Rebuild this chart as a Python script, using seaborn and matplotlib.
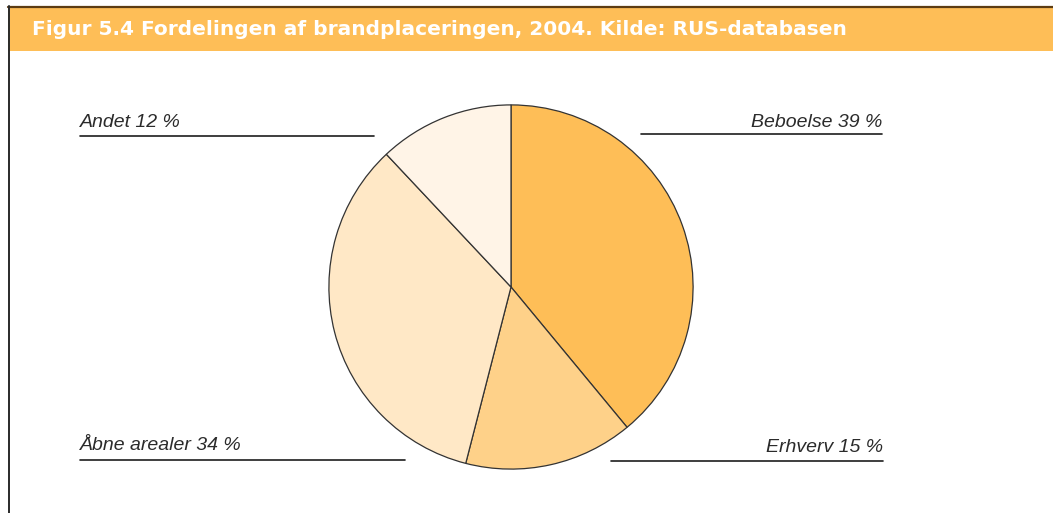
import matplotlib
matplotlib.use("Agg")
import matplotlib.pyplot as plt
from matplotlib.patches import Rectangle
from matplotlib.lines import Line2D
import seaborn as sns

# Data
categories = ["Beboelse", "Erhverv", "Åbne arealer", "Andet"]
shares = [39, 15, 34, 12]
slice_colors = ["#FEBE57", "#FED189", "#FFE8C6", "#FFF4E7"]
title = "Figur 5.4 Fordelingen af brandplaceringen, 2004. Kilde: RUS-databasen"

sns.set_theme(style="white")
plt.rcParams["font.family"] = ["Liberation Sans", "DejaVu Sans"]

W, H = 1053, 513
fig = plt.figure(figsize=(W / 100, H / 100), dpi=100)
fig.patch.set_facecolor("white")


def fx(px):
    return px / W


def fy(py):
    return 1 - py / H


# header bar and frame
fig.patches.append(Rectangle((fx(8), fy(51)), 1 - fx(8), (51 - 7) / H,
                             transform=fig.transFigure, facecolor="#FEBE57",
                             edgecolor="none", zorder=0))
fig.lines.append(Line2D([fx(8), 1], [fy(6.5), fy(6.5)], transform=fig.transFigure,
                        color="#5C3C12", linewidth=1.6))
fig.lines.append(Line2D([fx(8.5), fx(8.5)], [fy(6), 0], transform=fig.transFigure,
                        color="#2A2A2A", linewidth=1.4))
fig.text(fx(32), fy(29.5), title, color="white", fontsize=14.5, fontweight="bold",
         family="DejaVu Sans", ha="left", va="center")

# pie
cx, cy, r = 511, 287, 183
ax = fig.add_axes([fx(cx - r), fy(cy + r), 2 * r / W, 2 * r / H])
ax.pie(shares, colors=slice_colors, startangle=90, counterclock=False,
       wedgeprops=dict(edgecolor="#333333", linewidth=0.9))
ax.set_xlim(-1.005, 1.005)
ax.set_ylim(-1.005, 1.005)
ax.set_aspect("equal")
ax.axis("off")

# labels with underlines
label_specs = [
    # (category index, text x, text baseline y, line x0, line x1, line y, align)
    (0, 882, 127, 641, 882, 134, "right"),
    (1, 883, 452, 611, 883, 461, "right"),
    (2, 80, 450, 80, 405, 460, "left"),
    (3, 80, 127, 80, 374, 136, "left"),
]
for i, tx, ty, x0, x1, ly, ha in label_specs:
    fig.text(fx(tx), fy(ty), f"{categories[i]} {shares[i]} %", fontsize=14,
             style="italic", color="#2B2B2B", ha=ha, va="baseline")
    fig.lines.append(Line2D([fx(x0), fx(x1)], [fy(ly), fy(ly)],
                            transform=fig.transFigure, color="#1E1E1E", linewidth=1.2))

fig.savefig("out.png", dpi=100)
plt.close("all")
